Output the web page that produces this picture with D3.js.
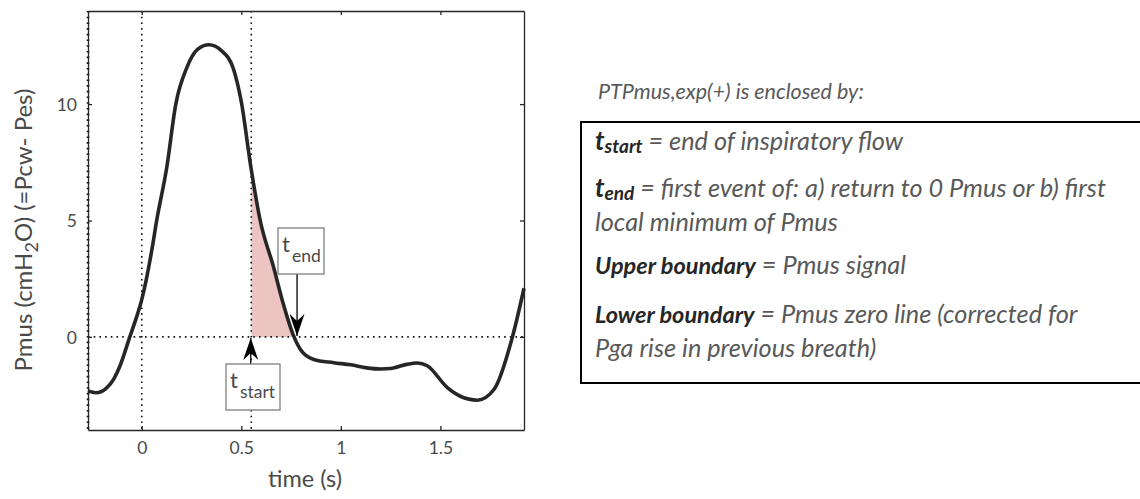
<!DOCTYPE html>
<html>
<head>
<meta charset="utf-8">
<script src="https://cdn.jsdelivr.net/npm/d3@7/dist/d3.min.js"></script>
<style>
  html, body { margin: 0; padding: 0; background: #fff; }
  svg { display: block; }
  .lbl { font-family: Lato, "Open Sans", sans-serif; font-weight: 400; fill: #4a4a4a; }
  .note { font-family: Lato, "Open Sans", sans-serif; font-style: italic; fill: #595959; }
</style>
</head>
<body>
<svg id="chart" width="1140" height="499"></svg>
<script>
// Pmus trace over one breath (time in s, pressure in cmH2O)
const timeS = [-0.27, -0.23, -0.18, -0.14, -0.11, -0.06, -0.025, 0.0, 0.05, 0.075, 0.126, 0.171, 0.226, 0.28, 0.337, 0.40, 0.461, 0.50, 0.548, 0.595, 0.662, 0.705, 0.765, 0.797, 0.864, 0.964, 1.05, 1.13, 1.2, 1.25, 1.33, 1.384, 1.434, 1.535, 1.6, 1.686, 1.77, 1.862, 1.92];
const pmus  = [-2.32, -2.40, -2.22, -1.80, -1.26, 0.0, 0.88, 1.6, 3.7, 5.0, 7.3, 10.0, 11.56, 12.35, 12.55, 12.3, 11.5, 10.1, 7.3, 5.0, 3.0, 1.6, 0.0, -0.54, -0.97, -1.11, -1.2, -1.33, -1.38, -1.36, -1.18, -1.12, -1.24, -2.18, -2.55, -2.72, -2.25, 0.0, 2.09];

const xTicks = [0, 0.5, 1, 1.5];
const yTicks = [0, 5, 10];
const xDomain = [-0.27, 1.92];
const yDomain = [-4, 14];

// event markers
const tStart = 0.55;
const tEnd = 0.765;
const tOnset = 0;

const noteHeading = "PTPmus,exp(+) is enclosed by:";

const svg = d3.select("#chart");
const m = { left: 88, right: 524, top: 11, bottom: 430 };

const x = d3.scaleLinear().domain(xDomain).range([m.left, m.right]);
const y = d3.scaleLinear().domain(yDomain).range([m.bottom, m.top]);

const pts = timeS.map((t, i) => [t, pmus[i]]);
const curve = d3.curveMonotoneX;

// shaded PTP area between tStart and tEnd, above zero
svg.append("clipPath").attr("id", "ptpClip")
  .append("rect")
  .attr("x", x(tStart)).attr("y", m.top)
  .attr("width", x(tEnd) - x(tStart)).attr("height", y(0) - m.top);

svg.append("path")
  .datum(pts)
  .attr("clip-path", "url(#ptpClip)")
  .attr("fill", "#ecc4c2")
  .attr("d", d3.area().x(d => x(d[0])).y0(y(0)).y1(d => y(d[1])).curve(curve));

// dotted reference lines
const dotted = g => g.attr("stroke", "#111").attr("stroke-width", 1.6)
  .attr("stroke-dasharray", "1.6,4.1").attr("fill", "none");

svg.append("line").call(dotted)
  .attr("x1", x(xDomain[0])).attr("x2", x(xDomain[1]))
  .attr("y1", y(0)).attr("y2", y(0));
[tOnset, tStart].forEach(t => {
  svg.append("line").call(dotted)
    .attr("x1", x(t)).attr("x2", x(t))
    .attr("y1", y(yDomain[1])).attr("y2", y(yDomain[0]));
});
svg.append("line").call(dotted)
  .attr("x1", x(xDomain[0])).attr("x2", x(xDomain[0]))
  .attr("y1", y(yDomain[1])).attr("y2", y(yDomain[0]))
  .attr("stroke-width", 2.6);

// axes (boxed, inward ticks)
const tickLen = 4;
const axB = svg.append("g").attr("transform", `translate(0,${m.bottom})`)
  .call(d3.axisBottom(x).tickValues(xTicks).tickSizeInner(-tickLen).tickSizeOuter(0).tickFormat(d3.format("")));
const axT = svg.append("g").attr("transform", `translate(0,${m.top})`)
  .call(d3.axisTop(x).tickValues(xTicks).tickSizeInner(-tickLen).tickSizeOuter(0).tickFormat(""));
const axL = svg.append("g").attr("transform", `translate(${m.left},0)`)
  .call(d3.axisLeft(y).tickValues(yTicks).tickSizeInner(-tickLen).tickSizeOuter(0));
const axR = svg.append("g").attr("transform", `translate(${m.right},0)`)
  .call(d3.axisRight(y).tickValues(yTicks).tickSizeInner(-tickLen).tickSizeOuter(0).tickFormat(""));

[axB, axT, axL, axR].forEach(a => {
  a.select(".domain").attr("stroke", "#262626").attr("stroke-width", 1.3);
  a.selectAll(".tick line").attr("stroke", "#262626").attr("stroke-width", 1.3);
});
axB.selectAll(".tick text").attr("class", "lbl").attr("font-size", 17.5)
  .attr("y", 12).attr("dy", "0.71em");
axL.selectAll(".tick text").attr("class", "lbl").attr("font-size", 17.5)
  .attr("x", -11).attr("dy", "0.35em");

// axis titles
svg.append("text").attr("class", "lbl").attr("font-size", 23.5)
  .attr("text-anchor", "middle").attr("x", 305).attr("y", 487).text("time (s)");

const yt = svg.append("text").attr("class", "lbl").attr("font-size", 24)
  .attr("text-anchor", "middle")
  .attr("transform", "translate(32,230) rotate(-90)");
yt.append("tspan").text("Pmus (cmH");
yt.append("tspan").attr("dy", 6).attr("font-size", 18).text("2");
yt.append("tspan").attr("dy", -6).text("O) (=Pcw- Pes)");

// Pmus signal
svg.append("path")
  .datum(pts)
  .attr("fill", "none")
  .attr("stroke", "#262626")
  .attr("stroke-width", 3.6)
  .attr("stroke-linejoin", "round")
  .attr("d", d3.line().x(d => x(d[0])).y(d => y(d[1])).curve(curve));

// arrowhead with notched back
const defs = svg.append("defs");
defs.append("marker").attr("id", "head")
  .attr("viewBox", "0 0 22 15").attr("refX", 22).attr("refY", 7.5)
  .attr("markerWidth", 22).attr("markerHeight", 15)
  .attr("markerUnits", "userSpaceOnUse").attr("orient", "auto")
  .append("path").attr("d", "M0,0 L22,7.5 L0,15 L7,7.5 Z").attr("fill", "#000");

function labelBox(left, top, w, h, sub) {
  const g = svg.append("g");
  g.append("rect").attr("x", left).attr("y", top).attr("width", w).attr("height", h)
    .attr("fill", "#fff").attr("stroke", "#7f7f7f").attr("stroke-width", 1.3);
  const t = g.append("text").attr("class", "lbl").attr("font-size", 22).attr("fill", "#262626")
    .attr("x", left + 4).attr("y", top + 24);
  t.append("tspan").text("t");
  t.append("tspan").attr("dy", 10).attr("font-size", 17.5).attr("dx", 2).text(sub);
  return g;
}

// t_end: arrow down onto the zero crossing
const endX = x(tEnd) + 3;
svg.append("line").attr("x1", endX).attr("x2", endX)
  .attr("y1", 274).attr("y2", y(0) - 1)
  .attr("stroke", "#000").attr("stroke-width", 1.3)
  .attr("marker-end", "url(#head)");
labelBox(278, 228, 46, 46, "end");

// t_start: arrow up from below
const startX = x(tStart) - 0.5;
svg.append("line").attr("x1", startX).attr("x2", startX)
  .attr("y1", 364).attr("y2", y(0) + 1)
  .attr("stroke", "#000").attr("stroke-width", 1.3)
  .attr("marker-end", "url(#head)");
labelBox(226, 364, 54, 46, "start");

// definitions panel
svg.append("text").attr("class", "note").attr("font-size", 21.5)
  .attr("x", 598).attr("y", 99).text(noteHeading);

svg.append("rect").attr("x", 581).attr("y", 122).attr("width", 600).attr("height", 261)
  .attr("fill", "none").attr("stroke", "#000").attr("stroke-width", 2);

const lines = [
  { y: 150, parts: [["t", "T"], ["start", "S"], [" = end of inspiratory flow", ""]] },
  { y: 197, parts: [["t", "T"], ["end", "S"], [" = first event of: a) return to 0 Pmus or b) first", ""]] },
  { y: 231, parts: [["local minimum of Pmus", ""]] },
  { y: 274, parts: [["Upper boundary", "B"], [" = Pmus signal", ""]] },
  { y: 323, parts: [["Lower boundary", "B"], [" = Pmus zero line (corrected for", ""]] },
  { y: 357, parts: [["Pga rise in previous breath)", ""]] }
];
const boldSize = { T: 26, S: 19, B: 23.5 };
lines.forEach(l => {
  const t = svg.append("text").attr("class", "note").attr("font-size", 25.3)
    .attr("x", 595).attr("y", l.y);
  let shifted = 0;
  l.parts.forEach(([s, k]) => {
    const sp = t.append("tspan").text(s);
    if (k) sp.attr("font-weight", 700).attr("fill", "#262626").attr("font-size", boldSize[k]);
    if (k === "S") { sp.attr("dy", 3); shifted = 3; }
    else if (shifted) { sp.attr("dy", -shifted); shifted = 0; }
  });
});
</script>
</body>
</html>
